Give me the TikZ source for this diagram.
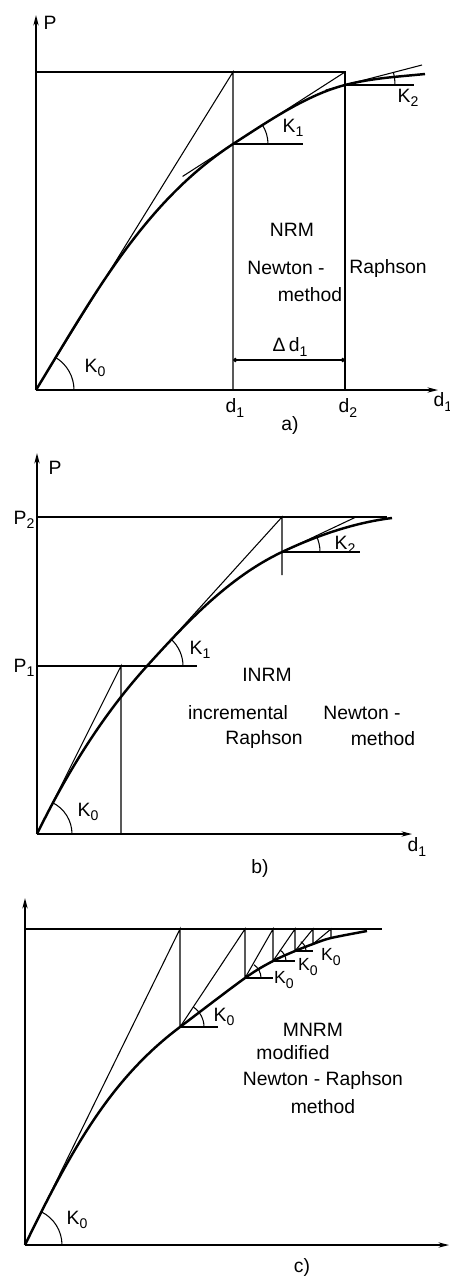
\documentclass[tikz,border=0pt]{standalone}
\usepackage{fontspec}
\setmainfont{Liberation Sans}
\usetikzlibrary{arrows.meta,calc}
\newcommand{\ksub}[2]{#1\raisebox{-0.45ex}{\footnotesize #2}}
\begin{document}
\begin{tikzpicture}[x=0.02cm,y=0.02cm,
  ln/.style={line width=0.6pt},
  curve/.style={line width=1.4pt,line join=round},
  axis/.style={line width=0.8pt,-{Stealth[length=6pt,width=3pt]}},
  lbl/.style={font=\fontsize{11}{13}\selectfont, inner sep=0pt},
  slbl/.style={font=\fontsize{10}{12}\selectfont, inner sep=0pt},
  dim/.style={line width=0.6pt,{Circle[length=2.5pt]}-{Circle[length=2.5pt]}}]
\useasboundingbox (0,0) rectangle (450,-1276);

% ================= panel a =================
\coordinate (Oa) at (36,-390);
\coordinate (Ya) at (36,-15);
\coordinate (Xa) at (438,-390);
\coordinate (Ta0) at (36,-72);
\coordinate (Ta1) at (233,-72);
\coordinate (Ta2) at (345,-72);
\coordinate (Ba1) at (233,-390);
\coordinate (Ba2) at (345,-390);
\coordinate (Pa1) at (233,-144);
\coordinate (Pa2) at (345,-85);
\coordinate (Ea) at (425,-74);
\coordinate (Ha1) at (303,-144);
\coordinate (Ua2) at (422,-65);
\coordinate (Ha2) at (414,-85);
\coordinate (Sa1) at ($(Pa1)!-0.45!(Ta2)$);
\coordinate (Sa2) at ($(Pa2)!-0.25!(Ua2)$);
\coordinate (Da1) at (233,-360);
\coordinate (Da2) at (345,-360);

\draw[axis] (Oa) -- (Ya);
\draw[axis] (Oa) -- (Xa);
\draw[ln] (Ta0) -- (Ta2) -- (Ba2);
\draw[ln] (Oa) -- (Ta1) -- (Ba1);
\draw[curve] (Oa) .. controls (95,-293) and (145.1,-201.5) .. (Pa1)
   .. controls (267.5,-121.8) and (306.3,-95.0) .. (Pa2)
   .. controls (371.1,-78.2) and (397,-76.8) .. (Ea);
\draw[ln] (Sa1) -- (Ta2);
\draw[ln] (Pa1) -- (Ha1);
\draw[ln] ($(Pa1)+(35,0)$) arc[start angle=0,end angle=33,radius=35];
\draw[ln] (Sa2) -- (Ua2);
\draw[ln] (Pa2) -- (Ha2);
\draw[ln] ($(Pa2)+(50,0)$) arc[start angle=0,end angle=14.6,radius=50];
\draw[ln] ($(Oa)+(38,0)$) arc[start angle=0,end angle=58.2,radius=38];
\draw[dim] (Da1) -- (Da2);

\node[lbl] (aP) at (50,-23) {P};
\node[lbl] (aK0) at (95,-368) {\ksub{K}{0}};
\node[lbl] (aK1) at (293,-128) {\ksub{K}{1}};
\node[lbl] (aK2) at (408,-98) {\ksub{K}{2}};
\node[lbl] (aNRM) at (292,-230) {NRM};
\node[lbl] (aNew) at (286,-268) {Newton -};
\node[lbl] (aRap) at (388,-268) {Raphson};
\node[lbl] (aMet) at (310,-295) {method};
\node[lbl] (aDd) at (290,-347) {Δ\,\ksub{d}{1}};
\node[lbl] (ad1) at (235,-408) {\ksub{d}{1}};
\node[lbl] (ad2) at (348,-408) {\ksub{d}{2}};
\node[lbl] (adx) at (443,-402) {\ksub{d}{1}};
\node[lbl] (acap) at (290,-425) {a)};

% ================= panel b =================
\coordinate (Ob) at (37,-834);
\coordinate (Yb) at (37,-453);
\coordinate (Xb) at (412,-834);
\coordinate (Lb2) at (37,-517);
\coordinate (Rb2) at (387,-517);
\coordinate (Lb1) at (37,-666);
\coordinate (Rb1) at (197,-666);
\coordinate (Tb1) at (121,-666);
\coordinate (Bb1) at (121,-834);
\coordinate (Cb1) at (147,-666);
\coordinate (Tb2) at (282,-517);
\coordinate (Cb2) at (282,-552);
\coordinate (Vb2) at (282,-575);
\coordinate (Hb2) at (360,-552);
\coordinate (Ub2) at (356,-517);
\coordinate (Eb) at (392,-518);

\draw[axis] (Ob) -- (Yb);
\draw[axis] (Ob) -- (Xb);
\draw[ln] (Lb2) -- (Rb2);
\draw[ln] (Lb1) -- (Rb1);
\draw[ln] (Ob) -- (Tb1) -- (Bb1);
\draw[ln] (Cb1) -- (Tb2) -- (Vb2);
\draw[ln] (Cb2) -- (Hb2);
\draw[ln] (Cb2) -- (Ub2);
\draw[curve] (Ob) .. controls (66.4,-773.8) and (102,-715.6) .. (Cb1)
   .. controls (186.6,-622.3) and (228.7,-577.3) .. (Cb2)
   .. controls (316.4,-535.7) and (354.4,-522.6) .. (Eb);
\draw[ln] ($(Ob)+(35,0)$) arc[start angle=0,end angle=64,radius=35];
\draw[ln] ($(Cb1)+(36,0)$) arc[start angle=0,end angle=47.8,radius=36];
\draw[ln] ($(Cb2)+(38,0)$) arc[start angle=0,end angle=25.3,radius=38];

\node[lbl] (bP) at (55,-468) {P};
\node[lbl] (bP2) at (24,-520) {\ksub{P}{2}};
\node[lbl] (bP1) at (24,-668) {\ksub{P}{1}};
\node[lbl] (bK0) at (88,-812) {\ksub{K}{0}};
\node[lbl] (bK1) at (200,-650) {\ksub{K}{1}};
\node[lbl] (bK2) at (345,-545) {\ksub{K}{2}};
\node[lbl] (bINRM) at (267,-675) {INRM};
\node[lbl] (bInc) at (238,-713) {incremental};
\node[lbl] (bNew) at (362,-713) {Newton -};
\node[lbl] (bRap) at (264,-739) {Raphson};
\node[lbl] (bMet) at (383,-739) {method};
\node[lbl] (bd1) at (417,-847) {\ksub{d}{1}};
\node[lbl] (bcap) at (260,-868) {b)};

% ================= panel c =================
\coordinate (Oc) at (25,-1245);
\coordinate (Yc) at (25,-898);
\coordinate (Xc) at (449,-1245);
\coordinate (Lc) at (25,-929);
\coordinate (Rc) at (382,-929);
\coordinate (Tc1) at (180,-929);
\coordinate (Tc2) at (245,-929);
\coordinate (Tc3) at (273,-929);
\coordinate (Tc4) at (295,-929);
\coordinate (Tc5) at (313,-929);
\coordinate (Tc6) at (331,-929);
\coordinate (Qc1) at (180,-1027);
\coordinate (Qc2) at (245,-978);
\coordinate (Qc3) at (273,-961);
\coordinate (Qc4) at (295,-951);
\coordinate (Qc5) at (313,-944);
\coordinate (Qc6) at (331,-938);
\coordinate (Hc1) at (218,-1027);
\coordinate (Hc2) at (273,-978);
\coordinate (Hc3) at (295,-961);
\coordinate (Hc4) at (313,-951);

\draw[axis] (Oc) -- (Yc);
\draw[axis] (Oc) -- (Xc);
\draw[ln] (Lc) -- (Rc);
\draw[ln] (Oc) -- (Tc1) -- (Qc1) -- (Tc2) -- (Qc2) -- (Tc3) -- (Qc3) -- (Tc4) -- (Qc4) -- (Tc5) -- (Qc5) -- (Tc6) -- (Qc6);
\draw[curve] (Oc) .. controls (73,-1146) and (112,-1078) .. (Qc1)
   -- plot[smooth,tension=0.5] coordinates {(180,-1027) (245,-978) (273,-961) (295,-951) (313,-944) (331,-938) (367,-931)};
\draw[ln] (Qc1) -- (Hc1);
\draw[ln] (Qc2) -- (Hc2);
\draw[ln] (Qc3) -- (Hc3);
\draw[ln] (Qc4) -- (Hc4);
\draw[ln] ($(Oc)+(37,0)$) arc[start angle=0,end angle=64,radius=37];
\draw[ln] ($(Qc1)+(24,0)$) arc[start angle=0,end angle=56,radius=24];
\draw[ln] ($(Qc2)+(16,0)$) arc[start angle=0,end angle=56,radius=16];
\draw[ln] ($(Qc3)+(13,0)$) arc[start angle=0,end angle=58,radius=13];
\draw[ln] ($(Qc4)+(11,0)$) arc[start angle=0,end angle=58,radius=11];

\node[lbl] (cK0a) at (77,-1220) {\ksub{K}{0}};
\node[lbl] (cK0b) at (224,-1017) {\ksub{K}{0}};
\node[slbl] (cK0c) at (284,-980) {\ksub{K}{0}};
\node[slbl] (cK0d) at (308,-967) {\ksub{K}{0}};
\node[slbl] (cK0e) at (331,-957) {\ksub{K}{0}};
\node[lbl] (cMN) at (313,-1030) {MNRM};
\node[lbl] (cMod) at (293,-1053) {modified};
\node[lbl] (cNR) at (323,-1080) {Newton - Raphson};
\node[lbl] (cMet) at (323,-1107) {method};
\node[lbl] (ccap) at (302,-1267) {c)};
\end{tikzpicture}
\end{document}
